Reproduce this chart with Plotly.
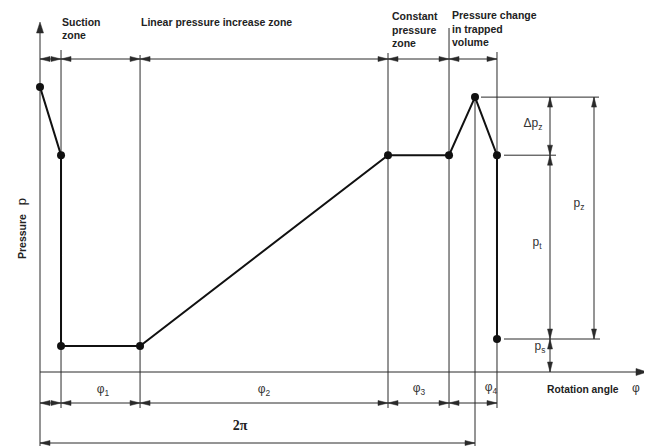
import plotly.graph_objects as go

# ---------------- data ----------------
# rotation angle in degrees (one full revolution 2π = 360), pressure in arbitrary units
curve_angle = [0.0, 17.4, 17.4, 82.8, 288.0, 338.5, 360.0, 378.2, 378.2]
curve_pressure = [8.64, 6.57, 0.79, 0.79, 6.57, 6.57, 8.33, 6.57, 1.0]
zone_bounds = [0.0, 17.4, 82.8, 288.0, 338.5, 378.2]
peak_angle = 360.0
p_peak = 8.33
p_t = 6.57
p_s = 1.0
zone_labels = ["Suction<br>zone", "Linear pressure increase zone",
               "Constant<br>pressure<br>zone", "Pressure change<br>in trapped<br>volume"]
phi_labels = ["φ<sub>1</sub>", "φ<sub>2</sub>", "φ<sub>3</sub>", "φ<sub>4</sub>"]
dim_labels = ["Δp<sub>z</sub>", "p<sub>t</sub>", "p<sub>z</sub>", "p<sub>s</sub>"]

# ---------------- geometry helpers (screen pixel <-> data) ----------------
SW, SH = 652, 446         # browser window
PAD = 8                   # default page body margin
W, H = SW - PAD, SH - PAD # figure size
OX, OY = 40, 372          # origin in screen pixels
KX = 435 / 360            # px per degree
KY = 33                   # px per pressure unit


def dx(px):
    return (px - OX) / KX


def dy(py):
    return (OY - py) / KY


def px(x):
    return OX + x * KX


def py(y):
    return OY - y * KY


LINE = "#2a2a2a"
THIN = dict(color=LINE, width=1)
shapes = []


def seg(x0, y0, x1, y1, line=THIN):
    shapes.append(dict(type="line", xref="x", yref="y", x0=x0, y0=y0, x1=x1, y1=y1,
                       line=line, layer="below"))


def head(xd, yd, direction, L=10, Wd=5):
    tx, ty = px(xd), py(yd)
    if direction == "l":
        pts = [(tx, ty), (tx + L, ty - Wd / 2), (tx + L, ty + Wd / 2)]
    elif direction == "r":
        pts = [(tx, ty), (tx - L, ty - Wd / 2), (tx - L, ty + Wd / 2)]
    elif direction == "u":
        pts = [(tx, ty), (tx - Wd / 2, ty + L), (tx + Wd / 2, ty + L)]
    else:
        pts = [(tx, ty), (tx - Wd / 2, ty - L), (tx + Wd / 2, ty - L)]
    path = "M " + " L ".join(f"{dx(a):.4f},{dy(b):.4f}" for a, b in pts) + " Z"
    shapes.append(dict(type="path", xref="x", yref="y", path=path,
                       fillcolor=LINE, line=dict(color=LINE, width=0.5)))


def hdim(x0, x1, y):
    seg(x0, y, x1, y)
    head(x0, y, "l")
    head(x1, y, "r")


def vdim(x, y0, y1):
    # y0 lower, y1 upper
    seg(x, y0, x, y1)
    head(x, y1, "u")
    head(x, y0, "d")


# axes
seg(0, dy(28), 0, dy(446))
head(0, dy(22), "u", L=11, Wd=7)
seg(0, 0, dx(640), 0)
head(dx(647), 0, "r", L=11, Wd=7)

# zone extension lines
ext_top = [None, 50, 55, 53, 28, 52]
for b, t in zip(zone_bounds[1:], ext_top[1:]):
    seg(b, dy(t), b, dy(408))
seg(peak_angle, p_peak, peak_angle, dy(446))

# top and bottom zone dimensions
for yline in (dy(59), dy(403)):
    for a, b in zip(zone_bounds[:-1], zone_bounds[1:]):
        hdim(a, b, yline)

# full revolution 2π
hdim(0, peak_angle, dy(443))

# pressure extension lines
seg(dx(481), p_peak, dx(599), p_peak)
seg(dx(504), p_t, dx(556), p_t)
seg(dx(504), p_s, dx(600), p_s)

# pressure dimensions
xa, xb = dx(550), dx(594)
vdim(xa, p_t, p_peak)
vdim(xa, p_s, p_t)
vdim(xa, 0, p_s)
vdim(xb, p_s, p_peak)

fig = go.Figure()
fig.add_trace(go.Scatter(
    x=curve_angle, y=curve_pressure, mode="lines+markers",
    line=dict(color="#111111", width=2),
    marker=dict(color="#111111", size=8),
    hoverinfo="skip", showlegend=False))

FAM = "Liberation Sans, Arial, sans-serif"
BOLD = dict(family=FAM, size=10.5, color="#222222", weight="bold")
REG = dict(family=FAM, size=12, color="#333333")

# zone titles (left aligned, vertically centred on block)
zone_pos = [(62, 30), (141, 23), (392, 31), (452, 30)]
fig.add_trace(go.Scatter(
    x=[dx(p[0]) for p in zone_pos], y=[dy(p[1]) for p in zone_pos],
    text=zone_labels, mode="text", textposition="middle right",
    textfont=BOLD, hoverinfo="skip", showlegend=False))

# angle labels
phi_pos = [(103, 390), (264, 390), (419, 389), (491, 388)]
fig.add_trace(go.Scatter(
    x=[dx(p[0]) for p in phi_pos], y=[dy(p[1]) for p in phi_pos],
    text=phi_labels, mode="text", textposition="middle center",
    textfont=REG, hoverinfo="skip", showlegend=False))

# pressure labels
dim_pos = [(533, 124), (537, 243), (579, 204), (540, 347)]
fig.add_trace(go.Scatter(
    x=[dx(p[0]) for p in dim_pos], y=[dy(p[1]) for p in dim_pos],
    text=dim_labels, mode="text", textposition="middle center",
    textfont=REG, hoverinfo="skip", showlegend=False))

# 2π
fig.add_trace(go.Scatter(
    x=[dx(240)], y=[dy(426)], text=["2π"], mode="text", textposition="middle center",
    textfont=dict(family="Liberation Serif, Times New Roman, serif", size=14,
                  color="#222222", weight="bold"),
    hoverinfo="skip", showlegend=False))

# x axis title
fig.add_trace(go.Scatter(
    x=[dx(547)], y=[dy(390)], text=["Rotation angle"], mode="text",
    textposition="middle right",
    textfont=dict(family=FAM, size=10.3, color="#222222", weight="bold"),
    hoverinfo="skip", showlegend=False))
fig.add_trace(go.Scatter(
    x=[dx(636)], y=[dy(389)], text=["φ"], mode="text", textposition="middle center",
    textfont=REG, hoverinfo="skip", showlegend=False))

# y axis title (rotated)
ann = [dict(x=dx(21), y=dy(229),
            text="Pressure   <span style='font-size:13px;font-weight:normal'>p</span>",
            textangle=-90, showarrow=False, font=BOLD)]

fig.update_layout(
    width=W, height=H,
    margin=dict(l=0, r=0, t=0, b=0),
    paper_bgcolor="white", plot_bgcolor="white",
    font=dict(family=FAM, size=11, color="#333333"),
    xaxis=dict(range=[dx(PAD), dx(SW)], visible=False, fixedrange=True),
    yaxis=dict(range=[dy(SH), dy(PAD)], visible=False, fixedrange=True),
    shapes=shapes, annotations=ann,
)

fig.write_html("out.html")
